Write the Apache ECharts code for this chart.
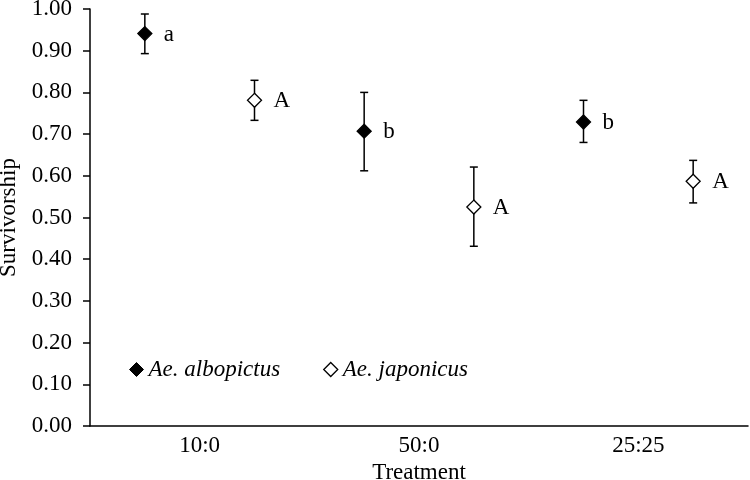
<!DOCTYPE html>
<html>
<head>
<meta charset="utf-8">
<script src="https://cdn.jsdelivr.net/npm/echarts@6/dist/echarts.min.js"></script>
<style>
  html, body { margin: 0; padding: 0; background: #fff; }
  #chart { width: 750px; height: 480px; }
</style>
</head>
<body>
<div id="chart"></div>
<script>
const categories = ['10:0', '50:0', '25:25']
const albMean = [0.941, 0.707, 0.729]
const albLow = [0.893, 0.612, 0.680]
const albHigh = [0.988, 0.800, 0.781]
const albLetters = ['a', 'b', 'b']
const japMean = [0.781, 0.525, 0.587]
const japLow = [0.733, 0.431, 0.535]
const japHigh = [0.829, 0.621, 0.637]
const japLetters = ['A', 'A', 'A']

const FONT = '"Liberation Serif", "Times New Roman", serif'
const FS = 23

function rows(mean, low, high, letters) {
  return categories.map((c, i) => [i, mean[i], low[i], high[i], letters[i]])
}

// error bar + diamond + letter, shifted a quarter band left/right of the category centre
function makeRender(offsetFrac, filled) {
  return function (params, api) {
    const c = api.value(0)
    const band = api.size([1, 0])[0]
    const p = api.coord([c, api.value(1)])
    const lo = api.coord([c, api.value(2)])
    const hi = api.coord([c, api.value(3)])
    const x = p[0] + offsetFrac * band
    const y = p[1]
    const cap = 4
    const r = 7
    const line = { stroke: '#000', lineWidth: 1.5 }
    return {
      type: 'group',
      children: [
        { type: 'line', shape: { x1: x, y1: hi[1], x2: x, y2: lo[1] }, style: line },
        { type: 'line', shape: { x1: x - cap, y1: hi[1], x2: x + cap, y2: hi[1] }, style: line },
        { type: 'line', shape: { x1: x - cap, y1: lo[1], x2: x + cap, y2: lo[1] }, style: line },
        {
          type: 'polygon',
          shape: { points: [[x, y - r], [x + r, y], [x, y + r], [x - r, y]] },
          style: { fill: filled ? '#000' : '#fff', stroke: '#000', lineWidth: 1.3 }
        },
        {
          type: 'text',
          x: x + 19,
          y: y + 1,
          style: {
            text: api.value(4),
            fontFamily: FONT,
            fontSize: FS,
            fill: '#000',
            verticalAlign: 'middle',
            align: 'left'
          }
        }
      ]
    }
  }
}

const chart = echarts.init(document.getElementById('chart'))
chart.setOption({
  animation: false,
  textStyle: { fontFamily: FONT, color: '#000' },
  grid: { left: 90, right: 2, top: 9, bottom: 54, outerBoundsMode: 'none', containLabel: false },
  legend: {
    left: 124,
    top: 353,
    itemWidth: 14,
    itemHeight: 14,
    itemGap: 43,
    textStyle: { fontFamily: FONT, fontSize: FS, fontStyle: 'italic', color: '#000' },
    data: [
      { name: 'Ae. albopictus', icon: 'diamond', itemStyle: { color: '#000', borderColor: '#000', borderWidth: 1 } },
      { name: 'Ae. japonicus', icon: 'diamond', itemStyle: { color: '#fff', borderColor: '#000', borderWidth: 1.3 } }
    ]
  },
  xAxis: {
    type: 'category',
    data: categories,
    boundaryGap: true,
    name: 'Treatment',
    nameLocation: 'middle',
    nameGap: 35,
    nameTextStyle: { fontFamily: FONT, fontSize: FS, color: '#000' },
    axisLine: { lineStyle: { color: '#000', width: 1.5 } },
    axisTick: { length: 6, lineStyle: { color: '#000', width: 1.5 } },
    axisLabel: { fontFamily: FONT, fontSize: FS, color: '#000', margin: 8 },
    splitLine: { show: false }
  },
  yAxis: {
    type: 'value',
    min: 0,
    max: 1,
    interval: 0.1,
    name: 'Survivorship',
    nameLocation: 'middle',
    nameGap: 65,
    nameTextStyle: { fontFamily: FONT, fontSize: FS, color: '#000' },
    axisLine: { show: true, lineStyle: { color: '#000', width: 1.5 } },
    axisTick: { show: true, length: 7, lineStyle: { color: '#000', width: 1.5 } },
    axisLabel: { fontFamily: FONT, fontSize: FS, color: '#000', margin: 18, formatter: (v) => v.toFixed(2) },
    splitLine: { show: false }
  },
  series: [
    {
      name: 'Ae. albopictus',
      type: 'custom',
      itemStyle: { color: '#000' },
      renderItem: makeRender(-0.25, true),
      encode: { x: 0, y: [1, 2, 3] },
      data: rows(albMean, albLow, albHigh, albLetters)
    },
    {
      name: 'Ae. japonicus',
      type: 'custom',
      itemStyle: { color: '#fff', borderColor: '#000' },
      renderItem: makeRender(0.25, false),
      encode: { x: 0, y: [1, 2, 3] },
      data: rows(japMean, japLow, japHigh, japLetters)
    }
  ]
})
</script>
</body>
</html>
